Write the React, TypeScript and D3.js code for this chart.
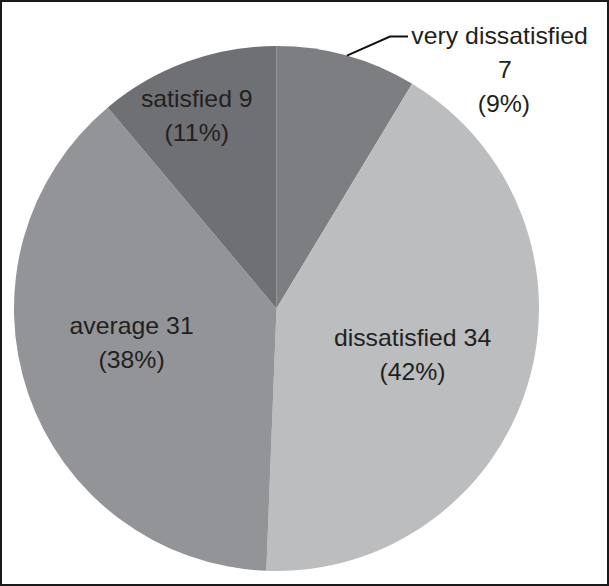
import React from "react";
import * as d3 from "d3";

const categories = ["very dissatisfied", "dissatisfied", "average", "satisfied"];
const counts = [7, 34, 31, 9];
const percents = ["9%", "42%", "38%", "11%"];
const colors = ["#7d7e82", "#bcbdbf", "#939497", "#6f7073"];

const W = 609;
const H = 586;
const cx = 276.5;
const cy = 308.5;
const R = 262.5;

export default function App() {
  const pie = d3.pie<number>().sort(null).value((d) => d);
  const arcs = pie(counts);
  const arc = d3.arc<d3.PieArcDatum<number>>().innerRadius(0).outerRadius(R);
  const labelRadius = [0, 142, 150, 198];
  const labelShift: [number, number][] = [[0, 0], [0, -1], [-3, -21], [-12, -13]];
  const fontStyle = {
    fontFamily: "'Liberation Sans', Arial, sans-serif",
    fontSize: 23,
    fill: "#231f20",
  } as React.CSSProperties;

  const lineH = 34;

  return (
    <svg width={W} height={H} style={{ position: "absolute", left: 0, top: 0 }}>
      <rect x={0} y={0} width={W} height={H} fill="#ffffff" />
      <g transform={`translate(${cx},${cy})`}>
        {arcs.map((a, i) => (
          <path key={i} d={arc(a) || ""} fill={colors[i]} />
        ))}
      </g>
      {arcs.map((a, i) => {
        const mid = (a.startAngle + a.endAngle) / 2;
        if (i === 0) {
          const ex = cx + R * Math.sin(mid);
          const ey = cy - R * Math.cos(mid);
          const tx = 505;
          const by = 36.5;
          return (
            <g key={i}>
              <polyline
                points={`${ex},${ey} ${390},${by} ${408},${by}`}
                fill="none"
                stroke="#111"
                strokeWidth={2}
              />
              <g transform={`translate(${tx},0) scale(1.08,1)`}>
                <text x={-5} y={by + 8} textAnchor="middle" style={fontStyle}>
                  {categories[i]}
                </text>
                <text x={0} y={by + 8 + lineH} textAnchor="middle" style={fontStyle}>
                  {counts[i]}
                </text>
                <text x={-1} y={by + 8 + lineH * 2} textAnchor="middle" style={fontStyle}>
                  ({percents[i]})
                </text>
              </g>
            </g>
          );
        }
        const r = labelRadius[i];
        const lx = cx + r * Math.sin(mid) + labelShift[i][0];
        const ly = cy - r * Math.cos(mid) + labelShift[i][1];
        return (
          <g key={i} transform={`translate(${lx},${ly}) scale(1.08,1)`}>
            <text x={0} y={-2} textAnchor="middle" style={fontStyle}>
              {categories[i]} {counts[i]}
            </text>
            <text x={0} y={-2 + lineH} textAnchor="middle" style={fontStyle}>
              ({percents[i]})
            </text>
          </g>
        );
      })}
      <rect x={1} y={1} width={W - 2} height={H - 2} fill="none" stroke="#1a1a1a" strokeWidth={2} />
    </svg>
  );
}
